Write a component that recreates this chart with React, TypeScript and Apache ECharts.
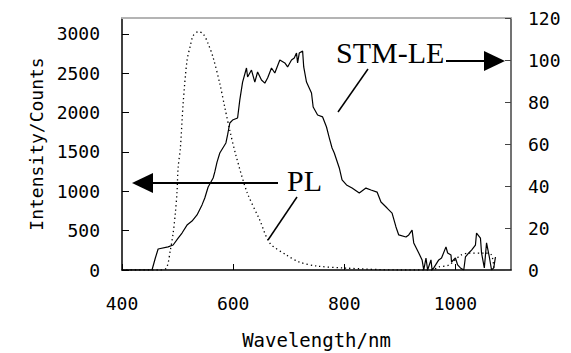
import React, { useEffect, useRef } from "react";
import * as echarts from "echarts";

// STM-LE (right axis, arbitrary units)
const stmWavelength = [400, 454, 460, 465, 483, 492, 501, 508, 517, 526, 535, 544, 549, 555, 564, 567, 571, 576, 587, 590, 594, 599, 608, 612, 617, 624, 626, 633, 639, 644, 651, 657, 662, 669, 675, 684, 693, 698, 705, 710, 714, 716, 719, 725, 727, 732, 741, 744, 752, 761, 768, 773, 778, 782, 791, 796, 804, 814, 827, 839, 848, 859, 866, 877, 886, 893, 898, 911, 916, 922, 925, 934, 940, 943, 947, 950, 956, 958, 961, 970, 975, 983, 986, 992, 993, 1000, 1004, 1009, 1015, 1018, 1024, 1029, 1036, 1038, 1045, 1047, 1052, 1056, 1061, 1065, 1069, 1072];
const stmIntensity = [0, 0, 5.7, 10.0, 11.0, 11.9, 15.2, 17.6, 21.4, 23.3, 26.2, 31.0, 34.3, 39.5, 43.8, 46.7, 51.4, 55.7, 60.5, 64.3, 70.0, 71.4, 72.4, 81.0, 89.5, 96.2, 91.9, 95.2, 89.5, 94.3, 90.5, 89.0, 91.4, 96.2, 93.8, 100, 98.6, 96.7, 100, 101, 103.3, 98.6, 103.3, 104.3, 96.7, 89.5, 84.3, 77.6, 73.8, 72.9, 68.1, 62.9, 58.1, 55.7, 48.6, 42.9, 40.5, 39.0, 36.7, 39.0, 38.1, 37.1, 32.4, 29.5, 27.1, 20.5, 16.7, 15.7, 16.7, 19.0, 12.9, 8.1, 4.8, 0, 5.7, 0, 4.8, 0, 1, 4.8, 5.7, 11.0, 8.1, 7.1, 3.8, 5.7, 2.4, 1, 0, 6.2, 8.1, 9.5, 11.9, 17.6, 15.2, 8.1, 1, 12.9, 6.2, 0, 1, 6.2];

// PL (left axis, counts)
const plWavelength = [400, 469, 480, 487, 492, 496, 499, 501, 505, 510, 517, 523, 528, 537, 546, 555, 564, 576, 585, 594, 605, 625, 648, 666, 696, 719, 750, 800, 899, 958, 970, 988, 1010, 1024, 1054, 1065, 1069];
const plCounts = [0, 0, 25, 253, 468, 722, 987, 1304, 1545, 2114, 2659, 2849, 2975, 3026, 3000, 2874, 2697, 2367, 2064, 1772, 1456, 987, 633, 342, 190, 101, 51, 25, 0, 0, 38, 63, 190, 215, 215, 190, 25];

const xTicks = [400, 600, 800, 1000];
const leftTicks = [0, 500, 1000, 1500, 2000, 2500, 3000];
const rightTicks = [0, 20, 40, 60, 80, 100, 120];

const FONT = "DejaVu Sans Mono";

export default function App() {
  const ref = useRef<HTMLDivElement>(null);
  useEffect(() => {
    const chart = echarts.init(ref.current!, null, { renderer: "svg" });
    const plData = plWavelength.map((w, i) => [w, plCounts[i]]);
    const stmData = stmWavelength.map((w, i) => [w, stmIntensity[i]]);
    const labelStyle = {
      fontFamily: FONT,
      fontSize: 18,
      color: "#000",
      formatter: (v: number) => String(v),
    };
    chart.setOption({
      animation: false,
      backgroundColor: "#fff",
      grid: { left: 122, right: 60, top: 18, bottom: 83, outerBoundsMode: "none", containLabel: false },
      xAxis: [
        {
          type: "value",
          min: 400,
          max: 1100,
          interval: 200,
          name: "Wavelength/nm",
          nameLocation: "middle",
          nameGap: 60,
          nameTextStyle: { fontFamily: FONT, fontSize: 19, color: "#000" },
          axisLine: { show: true, onZero: false, lineStyle: { color: "#000", width: 1.5 } },
          axisTick: { show: true, inside: true, length: 6, customValues: xTicks, lineStyle: { color: "#000" } },
          axisLabel: { ...labelStyle, margin: 24, customValues: xTicks },
          splitLine: { show: false },
        },
        {
          type: "value",
          position: "top",
          min: 400,
          max: 1100,
          axisLine: { show: true, onZero: false, lineStyle: { color: "#b4b4b4", width: 2 } },
          axisTick: { show: false },
          axisLabel: { show: false },
          splitLine: { show: false },
        },
      ],
      yAxis: [
        {
          type: "value",
          min: 0,
          max: 3200,
          interval: 500,
          name: "Intensity/Counts",
          nameLocation: "middle",
          nameGap: 75,
          nameTextStyle: { fontFamily: FONT, fontSize: 18, color: "#000" },
          axisLine: { show: true, onZero: false, lineStyle: { color: "#000", width: 1.5 } },
          axisTick: { show: true, inside: true, length: 7, customValues: leftTicks, lineStyle: { color: "#000" } },
          axisLabel: { ...labelStyle, margin: 22, customValues: leftTicks },
          splitLine: { show: false },
        },
        {
          type: "value",
          position: "right",
          min: 0,
          max: 120,
          interval: 20,
          axisLine: { show: true, onZero: false, lineStyle: { color: "#444", width: 1.5 } },
          axisTick: { show: true, inside: true, length: 6, customValues: rightTicks, lineStyle: { color: "#444" } },
          axisLabel: { ...labelStyle, margin: 17, customValues: rightTicks },
          splitLine: { show: false },
        },
      ],
      series: [
        {
          name: "PL",
          type: "line",
          xAxisIndex: 0,
          yAxisIndex: 0,
          data: plData,
          smooth: 0.3,
          showSymbol: false,
          lineStyle: { color: "#000", width: 1.3, type: [1.3, 3] },
        },
        {
          name: "STM-LE",
          type: "line",
          xAxisIndex: 0,
          yAxisIndex: 1,
          data: stmData,
          showSymbol: false,
          lineStyle: { color: "#000", width: 1.2 },
        },
      ],
      graphic: [
        {
          type: "text",
          left: 336,
          top: 37,
          style: { text: "STM-LE", font: "30px 'Liberation Serif'", fill: "#000" },
        },
        { type: "line", shape: { x1: 446, y1: 61, x2: 486, y2: 61 }, style: { stroke: "#000", lineWidth: 2 } },
        { type: "polygon", shape: { points: [[484, 51], [505, 61], [484, 71]] }, style: { fill: "#000" } },
        { type: "line", shape: { x1: 338, y1: 112, x2: 368, y2: 69 }, style: { stroke: "#000", lineWidth: 1.5 } },
        {
          type: "text",
          left: 287,
          top: 165,
          style: { text: "PL", font: "30px 'Liberation Serif'", fill: "#000" },
        },
        { type: "line", shape: { x1: 151, y1: 183, x2: 278, y2: 183 }, style: { stroke: "#000", lineWidth: 2 } },
        { type: "polygon", shape: { points: [[153, 173], [132, 183], [153, 193]] }, style: { fill: "#000" } },
        { type: "line", shape: { x1: 268, y1: 240, x2: 297, y2: 197 }, style: { stroke: "#000", lineWidth: 1.5 } },
      ],
    });
    return () => chart.dispose();
  }, []);
  return <div ref={ref} style={{ position: "absolute", left: 0, top: 0, width: 571, height: 353 }} />;
}
